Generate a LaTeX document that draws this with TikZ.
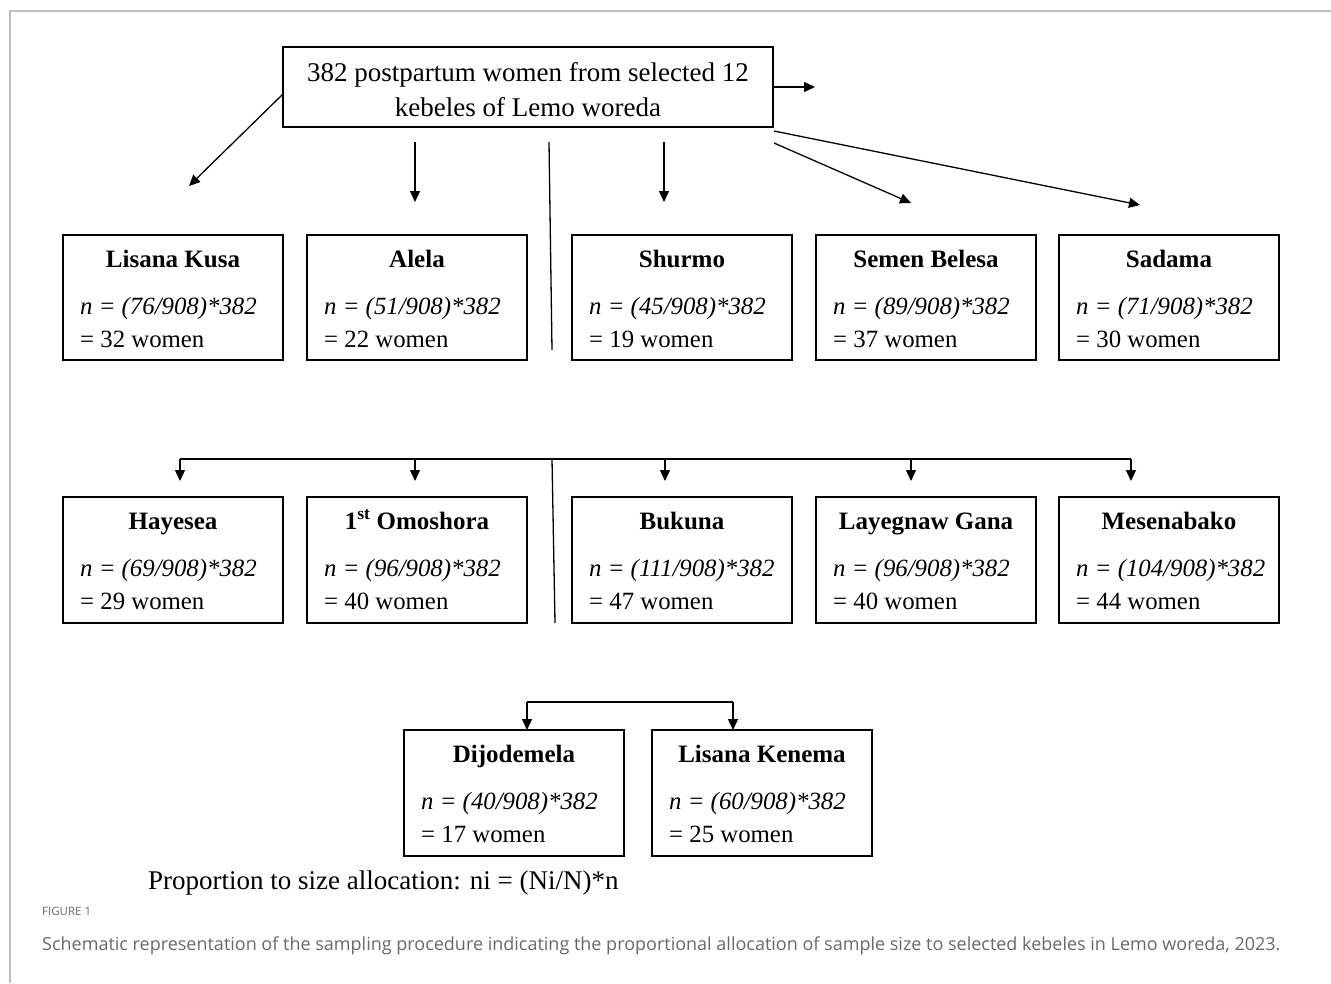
\documentclass[tikz,border=0pt]{standalone}
\usepackage{fontspec}
\setmainfont{Liberation Serif}
\newfontfamily\capfont{Open Sans}
\usetikzlibrary{arrows.meta,calc}
\definecolor{framegray}{RGB}{190,190,190}
\definecolor{capgray}{RGB}{105,105,105}
\tikzset{
  kbox/.style={draw, line width=1.3pt, minimum width=220pt, minimum height=125pt, inner sep=0pt, outer sep=0pt},
  topbox/.style={draw, line width=1.3pt, minimum width=490pt, minimum height=80pt, inner sep=0pt, outer sep=0pt},
  ttl/.style={inner sep=0pt, font=\fontsize{25}{30}\selectfont\bfseries},
  txt/.style={inner sep=0pt, font=\fontsize{24.8}{30}\selectfont},
  big/.style={inner sep=0pt, font=\fontsize{27}{35}\selectfont},
  conn/.style={line width=1.3pt},
  arr/.style={line width=1.3pt, -{Triangle[length=11pt,width=10pt]}},
}
\newcommand{\kebele}[7]{%
  \node[kbox, anchor=north west, minimum height=#7pt] (#1) at (#2,#3) {};
  \node[ttl, anchor=base] (#1-t) at ($(#1.north)+(0,32)$) {#4};
  \node[txt, anchor=base west] (#1-f) at ($(#1.north west)+(17,79)$) {\itshape n = (#5/908)*382};
  \node[txt, anchor=base west] (#1-r) at ($(#1.north west)+(17,112)$) {= #6 women};
}
\begin{document}
\begin{tikzpicture}[x=1pt,y=-1pt]
\useasboundingbox (0,0) rectangle (1331,983);
% frame
\draw[framegray, line width=1.2pt] (10,983) -- (10,11) -- (1331,11);
% top box
\node[topbox, anchor=north west] (top) at (283,47) {};
\node[big, anchor=base] (top-a) at ($(top.north)+(0,34)$) {382 postpartum women from selected 12};
\node[big, anchor=base] (top-b) at ($(top.north)+(0,69)$) {kebeles of Lemo woreda};
% row 1
\kebele{lk}{63}{235}{Lisana Kusa}{76}{32}{125}
\kebele{al}{307}{235}{Alela}{51}{22}{125}
\kebele{sh}{572}{235}{Shurmo}{45}{19}{125}
\kebele{sb}{816}{235}{Semen Belesa}{89}{37}{125}
\kebele{sa}{1059}{235}{Sadama}{71}{30}{125}
% row 2
\kebele{ha}{63}{497}{Hayesea}{69}{29}{126}
\kebele{om}{307}{497}{1\textsuperscript{st} Omoshora}{96}{40}{126}
\kebele{bu}{572}{497}{Bukuna}{111}{47}{126}
\kebele{lg}{816}{497}{Layegnaw Gana}{96}{40}{126}
\kebele{me}{1059}{497}{Mesenabako}{104}{44}{126}
% row 3
\kebele{dj}{404}{730}{Dijodemela}{40}{17}{126}
\kebele{lke}{652}{730}{Lisana Kenema}{60}{25}{126}
% connectors from top box
\coordinate (e0) at (815,87);
\coordinate (s1) at (283,94);
\coordinate (e1) at (189,186);
\coordinate (s2) at (415,142);
\coordinate (e2) at (415,202);
\coordinate (s3) at (549,142);
\coordinate (e3) at (552,350);
\coordinate (s4) at (664,142);
\coordinate (e4) at (664,202);
\coordinate (s5) at (774,143);
\coordinate (e5) at (911,203);
\coordinate (s6) at (774,131);
\coordinate (e6) at (1140,205);
\draw[arr] (top.east) -- (e0);
\draw[arr] (s1) -- (e1);
\draw[arr] (s2) -- (e2);
\draw[conn] (s3) -- (e3);
\draw[arr] (s4) -- (e4);
\draw[arr] (s5) -- (e5);
\draw[arr] (s6) -- (e6);
% row 2 connectors
\coordinate (b1) at (180,459);
\coordinate (b2) at (415,459);
\coordinate (b3) at (665,459);
\coordinate (b4) at (911,459);
\coordinate (b5) at (1131,459);
\coordinate (bm) at (552,459);
\coordinate (bme) at (555,623);
\draw[conn] (b1) -- (b5);
\draw[conn] (bm) -- (bme);
\foreach \c in {b1,b2,b3,b4,b5} {\draw[arr] (\c) -- ++(0,22);}
% row 3 connectors
\coordinate (c1) at (527,702);
\coordinate (c2) at (733,702);
\draw[conn] (c1) -- (c2);
\draw[arr] (c1) -- (c1 |- dj.north);
\draw[arr] (c2) -- (c2 |- lke.north);
% formula note
\node[big, anchor=base west] (note) at (148,889) {Proportion to size allocation: ni = (Ni/N)*n};
% caption
\node[anchor=base west, inner sep=0pt, text=capgray, font=\capfont\fontsize{11.5}{13}\selectfont] (figlab) at (42,915) {FIGURE 1};
\node[anchor=base west, inner sep=0pt, text=capgray, font=\capfont\fontsize{18}{21}\selectfont] (cap) at (42,950) {Schematic representation of the sampling procedure indicating the proportional allocation of sample size to selected kebeles in Lemo woreda, 2023.};
\end{tikzpicture}
\end{document}
